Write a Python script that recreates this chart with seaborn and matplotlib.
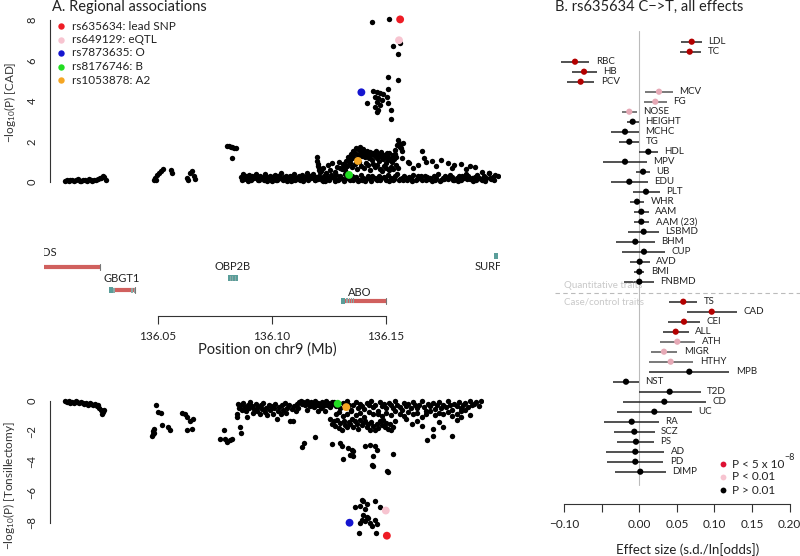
import numpy as np
import pandas as pd
import matplotlib
matplotlib.use("Agg")
import matplotlib.pyplot as plt
from matplotlib.patches import Rectangle
import seaborn as sns

# ---------------- data ----------------
# Panel A top: CAD association, (position Mb, -log10 P)
cad_snps = [
    (136.0092,0.05),(136.0100,0.10),(136.0108,0.03),(136.0116,0.08),(136.0124,0.12),(136.0132,0.06),(136.0140,0.10),(136.0148,0.14),
    (136.0156,0.07),(136.0164,0.04),(136.0172,0.11),(136.0180,0.09),(136.0188,0.05),(136.0196,0.13),(136.0204,0.08),(136.0212,0.06),
    (136.0220,0.12),(136.0228,0.10),(136.0236,0.15),(136.0244,0.20),(136.0252,0.18),(136.0258,0.30),(136.0264,0.25),(136.0270,0.12),
    (136.0483,0.12),(136.0487,0.20),(136.0492,0.10),(136.0496,0.35),(136.0505,0.45),(136.0514,0.55),(136.0522,0.65),(136.0558,0.60),
    (136.0563,0.45),(136.0628,0.20),(136.0632,0.12),(136.0640,0.45),(136.0650,0.55),(136.0658,0.30),(136.0664,0.15),
    (136.0803,1.80),(136.0810,1.76),(136.0818,1.74),(136.0825,1.72),(136.0832,1.70),(136.0840,1.70),(136.0823,1.17),
    (136.0865,0.25),(136.0872,0.40),(136.0879,0.15),(136.0886,0.30),(136.0893,0.20),(136.0900,0.35),(136.0907,0.10),(136.0914,0.28),
    (136.0921,0.18),(136.0928,0.40),(136.0935,0.22),(136.0942,0.12),(136.0949,0.32),(136.0956,0.20),(136.0963,0.08),(136.0970,0.38),
    (136.0977,0.25),(136.0984,0.15),(136.0991,0.30),(136.0998,0.05),(136.1005,0.22),(136.1012,0.35),(136.1019,0.12),(136.1026,0.28),
    (136.1033,0.18),(136.1040,0.42),(136.1047,0.10),(136.1054,0.25),(136.1061,0.32),(136.1068,0.15),(136.1075,0.20),(136.1082,0.05),
    (136.1089,0.30),(136.1096,0.38),(136.1103,0.12),(136.1110,0.22),(136.1117,0.28),(136.1124,0.08),(136.1131,0.35),(136.1138,0.18),
    (136.1145,0.25),(136.1152,0.45),(136.1159,0.12),(136.1166,0.30),(136.1173,0.20),(136.1180,0.38),(136.1187,0.10),(136.1194,0.25),
    (136.1201,0.15),(136.1208,0.32),(136.1215,0.22),(136.1222,0.05),(136.1229,0.28),(136.1236,0.40),(136.1243,0.18),(136.1250,0.12),
    (136.1257,0.35),(136.1264,0.25),
    (136.0868,0.10),(136.0882,0.20),(136.0896,0.05),(136.0910,0.15),(136.0924,0.30),(136.0938,0.08),(136.0952,0.18),(136.0966,0.25),
    (136.0980,0.05),(136.0994,0.12),(136.1008,0.32),(136.1022,0.08),(136.1036,0.20),(136.1050,0.15),(136.1064,0.05),(136.1078,0.28),
    (136.1092,0.10),(136.1106,0.22),(136.1120,0.15),(136.1134,0.05),(136.1148,0.18),(136.1162,0.30),(136.1176,0.25),(136.1190,0.08),
    (136.1204,0.20),(136.1218,0.12),(136.1232,0.05),(136.1246,0.22),(136.1260,0.30),
    (136.1196,1.22),(136.1198,1.05),(136.1201,0.90),(136.1203,0.80),(136.1205,0.70),(136.1208,0.60),(136.1210,0.50),
    (136.1215,0.55),(136.1225,0.70),(136.1235,0.45),(136.1245,0.85),(136.1255,0.60),(136.1265,0.95),(136.1275,0.50),(136.1285,0.75),
    (136.1295,1.00),(136.1305,0.65),(136.1315,0.85),(136.1325,1.05),
    (136.1335,1.25),(136.1340,1.10),(136.1345,1.40),(136.1350,1.30),(136.1355,1.55),(136.1360,1.20),(136.1365,1.45),(136.1370,1.70),
    (136.1375,1.35),(136.1380,1.60),(136.1385,1.75),(136.1390,1.50),(136.1395,1.30),(136.1400,1.65),(136.1405,1.45),(136.1410,1.25),
    (136.1415,1.55),(136.1420,1.40),(136.1425,1.20),(136.1430,1.50),(136.1435,1.35),(136.1440,1.10),(136.1445,1.45),(136.1450,1.30),
    (136.1455,1.55),(136.1460,1.20),(136.1465,1.40),(136.1470,1.05),(136.1475,1.30),(136.1480,1.50),(136.1485,1.15),(136.1490,1.35),
    (136.1495,1.25),(136.1500,0.95),(136.1505,1.30),(136.1510,1.10),(136.1515,1.45),(136.1520,1.20),(136.1525,1.00),(136.1530,1.35),
    (136.1535,1.15),(136.1540,1.40),(136.1545,1.25),(136.1550,1.85),(136.1555,1.95),(136.1560,1.80),(136.1565,1.70),(136.1570,1.55),
    (136.1300,0.70),(136.1310,0.90),(136.1320,0.60),(136.1330,0.80),(136.1342,0.95),(136.1352,0.75),(136.1362,0.90),(136.1372,0.65),
    (136.1382,1.00),(136.1392,0.80),(136.1402,0.70),(136.1412,0.95),(136.1422,0.85),(136.1432,0.60),(136.1442,0.90),(136.1452,0.75),
    (136.1462,0.85),(136.1472,0.65),(136.1482,0.55),(136.1492,0.80),(136.1502,0.70),(136.1512,0.60),(136.1522,0.75),(136.1532,0.65),
    (136.1542,0.85),(136.1552,0.70),
    (136.1270,0.20),(136.1280,0.35),(136.1290,0.10),(136.1300,0.28),(136.1310,0.15),(136.1320,0.40),(136.1330,0.22),(136.1340,0.08),
    (136.1350,0.30),(136.1360,0.18),(136.1370,0.25),(136.1380,0.12),(136.1390,0.35),(136.1400,0.20),(136.1410,0.05),(136.1420,0.28),
    (136.1430,0.15),(136.1440,0.32),(136.1450,0.22),(136.1460,0.10),(136.1470,0.30),(136.1480,0.18),(136.1490,0.25),(136.1500,0.08),
    (136.1510,0.35),(136.1520,0.20),(136.1530,0.12),(136.1540,0.28),(136.1550,0.40),(136.1560,0.15),(136.1570,0.22),(136.1580,0.30),
    (136.1590,0.10),(136.1600,0.25),(136.1610,0.18),(136.1620,0.35),(136.1630,0.08),(136.1640,0.28),(136.1650,0.20),(136.1660,0.12),
    (136.1670,0.32),(136.1680,0.25),(136.1690,0.15),(136.1700,0.05),(136.1710,0.30),(136.1720,0.22),(136.1730,0.38),(136.1740,0.10),
    (136.1750,0.20),(136.1760,0.28),(136.1770,0.15),(136.1780,0.35),(136.1790,0.25),(136.1800,0.08),(136.1810,0.18),(136.1820,0.30),
    (136.1830,0.12),(136.1840,0.22),(136.1850,0.40),(136.1860,0.28),(136.1870,0.15),(136.1880,0.05),(136.1890,0.25),(136.1900,0.35),
    (136.1910,0.18),(136.1920,0.10),(136.1930,0.30),(136.1940,0.20),(136.1950,0.45),(136.1960,0.15),(136.1970,0.25),(136.1980,0.35),
    (136.1990,0.30),
    (136.1275,0.05),(136.1295,0.15),(136.1315,0.05),(136.1335,0.18),(136.1355,0.10),(136.1375,0.05),(136.1395,0.12),(136.1415,0.22),
    (136.1435,0.05),(136.1455,0.15),(136.1475,0.08),(136.1495,0.20),(136.1515,0.05),(136.1535,0.15),(136.1555,0.08),(136.1575,0.12),
    (136.1595,0.20),(136.1615,0.05),(136.1635,0.15),(136.1655,0.30),(136.1675,0.08),(136.1695,0.20),(136.1715,0.12),(136.1735,0.05),
    (136.1755,0.15),(136.1775,0.25),(136.1795,0.10),(136.1815,0.05),(136.1835,0.30),(136.1855,0.15),(136.1875,0.22),(136.1895,0.08),
    (136.1915,0.15),(136.1935,0.05),(136.1955,0.22),(136.1975,0.10),
    (136.1657,1.55),(136.1665,1.20),(136.1675,1.00),(136.1700,1.05),(136.1720,0.80),(136.1740,1.10),(136.1770,0.95),(136.1790,0.70),
    (136.1800,0.85),(136.1830,0.90),(136.1850,0.65),(136.1870,0.80),(136.1890,0.75),(136.1920,0.50),(136.1950,0.45),(136.1600,0.95),
    (136.1620,0.70),(136.1640,0.85),
    (136.1554,2.07),(136.1575,1.91),(136.1561,1.74),(136.1539,1.58),(136.1503,1.42),(136.1488,1.25),(136.1532,1.33),(136.1569,1.17),
    (136.1598,1.00),
    (136.1437,7.91),(136.1512,8.03),(136.1561,6.85),(136.1532,6.72),(136.1553,6.30),(136.1507,5.17),(136.1554,5.03),(136.1442,4.51),
    (136.1459,4.46),(136.1474,4.38),(136.1488,4.33),(136.1452,4.21),(136.1466,4.13),(136.1481,4.05),(136.1459,3.97),(136.1474,3.80),
    (136.1452,3.72),(136.1466,3.56),(136.1459,3.47),(136.1510,4.58),(136.1503,4.21),(136.1510,3.89),(136.1521,3.56),(136.1415,3.92),
    (136.1521,3.09),
]

# Panel A bottom: tonsillectomy association, (position Mb, log10 P)
tons_snps = [
    (136.0096,-0.05),(136.0104,-0.10),(136.0112,-0.03),(136.0120,-0.12),(136.0128,-0.08),(136.0136,-0.15),(136.0144,-0.05),(136.0152,-0.10),
    (136.0160,-0.18),(136.0168,-0.08),(136.0176,-0.12),(136.0184,-0.20),(136.0192,-0.15),(136.0200,-0.25),(136.0208,-0.18),(136.0216,-0.22),
    (136.0224,-0.30),(136.0232,-0.20),(136.0240,-0.35),(136.0246,-0.28),(136.0252,-0.45),(136.0258,-0.62),(136.0262,-0.85),(136.0268,-0.72),
    (136.0272,-0.60),
    (136.0510,-0.28),(136.0521,-0.72),(136.0533,-0.83),(136.0498,-2.00),(136.0496,-2.20),(136.0494,-2.32),(136.0500,-2.10),(136.0502,-1.85),
    (136.0536,-1.60),(136.0566,-1.70),(136.0574,-1.90),
    (136.0627,-0.80),(136.0642,-0.85),(136.0650,-1.09),(136.0665,-1.31),(136.0680,-1.20),(136.0650,-1.90),(136.0673,-1.85),
    (136.0820,-1.90),(136.0802,-2.50),(136.0825,-2.50),(136.0847,-2.60),(136.0832,-2.72),(136.0855,-2.50),(136.0893,-1.70),(136.0896,-2.10),
    (136.0878,-0.85),(136.0880,-1.10),(136.0884,-0.20),(136.0890,-0.45),(136.0896,-0.30),(136.0902,-0.60),(136.0908,-0.15),(136.0914,-0.40),
    (136.0920,-0.70),(136.0923,-1.04),(136.0928,-0.25),(136.0934,-0.50),(136.0940,-0.10),(136.0946,-0.35),(136.0952,-0.80),(136.0958,-0.55),
    (136.0964,-0.20),(136.0970,-0.65),(136.0976,-0.40),(136.0982,-0.90),(136.0988,-0.30),(136.0994,-0.55),(136.1000,-0.15),(136.1006,-0.75),
    (136.1012,-0.45),(136.1018,-0.95),(136.1024,-0.25),(136.1030,-0.60),(136.1036,-0.35),(136.1042,-0.85),(136.1048,-0.50),(136.1054,-0.20),
    (136.1060,-1.20),(136.1066,-0.70),(136.1072,-0.40),(136.1078,-0.90),(136.1084,-0.30),(136.1090,-0.60),(136.1096,-0.15),(136.1102,-0.80),
    (136.1108,-0.45),(136.1114,-0.25),(136.1121,-1.31),(136.1128,-0.55),(136.1136,-1.31),(136.1140,-0.35),(136.1146,-0.70),(136.1152,-0.20),
    (136.1158,-0.50),(136.1164,-0.10),
    (136.1170,-0.05),(136.1176,-0.20),(136.1182,-0.10),(136.1188,-0.30),(136.1194,-0.15),(136.1200,-0.05),(136.1206,-0.25),(136.1212,-0.35),
    (136.1218,-0.10),(136.1224,-0.20),(136.1230,-0.40),(136.1236,-0.05),(136.1242,-0.30),(136.1248,-0.15),(136.1254,-0.25),(136.1260,-0.45),
    (136.1266,-0.10),(136.1272,-0.35),(136.1278,-0.20),(136.1284,-0.05),(136.1290,-0.30),(136.1296,-0.15),(136.1302,-0.40),(136.1308,-0.25),
    (136.1314,-0.10),(136.1174,-3.05),(136.1185,-2.80),(136.1235,-2.40),(136.1200,-0.60),(136.1250,-0.70),(136.1280,-0.65),
    (136.1320,-0.10),(136.1330,-0.35),(136.1340,-0.20),(136.1350,-0.50),(136.1360,-0.15),(136.1370,-0.40),(136.1380,-0.05),(136.1390,-0.30),
    (136.1400,-0.60),(136.1410,-0.25),(136.1420,-0.10),(136.1430,-0.45),(136.1440,-0.20),(136.1450,-0.35),(136.1460,-0.55),(136.1470,-0.15),
    (136.1480,-0.30),(136.1490,-0.05),(136.1500,-0.40),(136.1510,-0.25),(136.1520,-0.65),(136.1530,-0.10),(136.1540,-0.35),(136.1550,-0.20),
    (136.1560,-0.50),(136.1570,-0.15),(136.1580,-0.30),(136.1590,-0.45),(136.1600,-0.05),(136.1610,-0.25),(136.1620,-0.40),(136.1630,-0.60),
    (136.1640,-0.15),(136.1650,-0.35),(136.1660,-0.20),(136.1670,-0.50),(136.1680,-0.10),(136.1690,-0.30),(136.1700,-0.45),(136.1710,-0.25),
    (136.1720,-0.05),(136.1730,-0.40),(136.1740,-0.70),(136.1750,-0.20),(136.1760,-0.35),(136.1770,-0.15),(136.1780,-0.55),(136.1790,-0.30),
    (136.1800,-0.10),(136.1810,-0.45),(136.1820,-0.25),(136.1830,-0.40),(136.1840,-0.05),(136.1850,-0.30),(136.1860,-0.60),(136.1870,-0.20),
    (136.1880,-0.35),(136.1890,-0.10),(136.1900,-0.50),(136.1910,-0.25),(136.1920,-0.15),(136.1930,-0.40),(136.1940,-0.05),(136.1950,-0.30),
    (136.1960,-0.20),(136.1970,-0.10),(136.1980,-0.35),(136.1990,-0.05),
    (136.1330,-0.90),(136.1345,-0.75),(136.1360,-1.00),(136.1380,-0.85),(136.1400,-0.70),(136.1420,-0.95),(136.1440,-0.80),(136.1460,-1.05),
    (136.1480,-0.75),(136.1500,-0.90),(136.1520,-0.85),(136.1540,-1.00),(136.1560,-0.80),(136.1580,-0.95),(136.1600,-0.70),(136.1620,-0.85),
    (136.1640,-1.00),(136.1660,-0.75),(136.1680,-0.90),(136.1700,-0.80),(136.1720,-1.05),(136.1740,-0.85),(136.1760,-0.70),(136.1780,-0.95),
    (136.1800,-0.80),(136.1820,-0.90),(136.1840,-0.75),(136.1860,-1.00),(136.1880,-0.85),(136.1900,-0.70),(136.1920,-0.60),(136.1941,-0.96),
    (136.1305,-1.20),(136.1312,-1.50),(136.1320,-1.35),(136.1328,-1.65),(136.1335,-1.25),(136.1342,-1.80),(136.1350,-1.45),(136.1358,-1.90),
    (136.1365,-1.30),(136.1372,-1.60),(136.1380,-1.75),(136.1388,-1.40),(136.1395,-1.55),(136.1402,-1.20),(136.1410,-1.70),(136.1418,-1.35),
    (136.1425,-1.50),(136.1432,-1.85),(136.1440,-1.25),(136.1448,-1.60),(136.1455,-1.45),(136.1462,-1.30),(136.1470,-1.75),(136.1478,-1.55),
    (136.1485,-1.90),(136.1492,-1.40),(136.1500,-1.65),(136.1508,-1.95),(136.1515,-1.50),(136.1522,-1.80),(136.1530,-1.35),(136.1538,-1.60),
    (136.1545,-1.25),(136.1552,-1.70),(136.1560,-1.45),(136.1568,-1.85),(136.1575,-1.55),(136.1582,-1.95),(136.1590,-1.75),(136.1598,-1.30),
    (136.1650,-1.20),(136.1675,-1.50),(136.1700,-1.30),(136.1720,-1.65),(136.1743,-2.60),(136.1771,-2.30),(136.1774,-1.85),(136.1800,-1.40),
    (136.1819,-1.70),(136.1857,-2.30),(136.1880,-1.25),(136.1900,-1.10),
    (136.1311,-2.85),(136.1349,-2.74),(136.1356,-3.00),(136.1386,-3.10),(136.1402,-3.20),(136.1409,-3.30),(136.1364,-3.80),(136.1394,-3.55),
    (136.1409,-3.60),(136.1462,-3.00),(136.1485,-2.90),(136.1508,-3.00),(136.1518,-3.20),(136.1497,-3.60),(136.1493,-4.20),(136.1500,-4.30),
    (136.1561,-4.60),(136.1569,-4.70),(136.1589,-3.50),
    (136.1447,-6.50),(136.1455,-6.60),(136.1470,-6.80),(136.1417,-7.00),(136.1440,-6.90),(136.1462,-7.10),(136.1508,-6.60),(136.1531,-7.00),
    (136.1455,-7.50),(136.1470,-7.60),(136.1477,-7.70),(136.1447,-7.80),(136.1440,-8.00),(136.1462,-7.90),(136.1485,-8.00),(136.1508,-7.80),
    (136.1493,-8.20),(136.1516,-8.10),(136.1436,-8.70),(136.1513,-8.70),
]

# Highlighted SNPs
hl_labels = ["rs635634: lead SNP", "rs649129: eQTL", "rs7873635: O", "rs8176746: B", "rs1053878: A2"]
hl_colors = ["#ee1c25", "#f7c4d0", "#1515d0", "#22dd22", "#f5a623"]
hl_pos = [136.1562, 136.1557, 136.1392, 136.1338, 136.1377]
hl_cad = [8.03, 7.00, 4.43, 0.35, 1.04]
hl_tons = [-8.85, -7.20, -8.00, -0.20, -0.42]

# Genes (hg19 Mb)
gene_names = ["RALGDS", "GBGT1", "OBP2B", "ABO", "SURF6"]
gene_start = [135.9750, 136.0285, 136.0807, 136.1303, 136.1974]
gene_end = [136.0246, 136.0399, 136.0851, 136.1500, 136.1991]
gene_teal = [[], [(136.0285, 136.0302)], [(136.0807, 136.0851)], [(136.1303, 136.1320)], [(136.1974, 136.1991)]]
gene_marks = [[], [136.0306, 136.0311, 136.0383, 136.0390, 136.0396], [136.0817, 136.0828, 136.0840],
              [136.1326, 136.1333, 136.1340, 136.1348, 136.1356], []]
gene_has_line = [True, True, False, True, False]

# Panel B: effects of rs635634
quant_traits = ["LDL","TC","RBC","HB","PCV","MCV","FG","NOSE","HEIGHT","MCHC","TG","HDL","MPV","UB","EDU","PLT",
                "WHR","AAM","AAM (23)","LSBMD","BHM","CUP","AVD","BMI","FNBMD"]
quant_eff = [0.0697,0.067,-0.0855,-0.0735,-0.078,0.0262,0.0213,-0.0133,-0.0088,-0.019,-0.0133,0.012,-0.019,0.005,-0.0133,0.0089,
             -0.003,0.0027,0.0027,0.0058,-0.0053,0.0062,0.0005,0.0,0.0]
quant_lo = [0.056,0.054,-0.104,-0.0895,-0.0966,0.008,0.0062,-0.0234,-0.0168,-0.0376,-0.0266,0.0,-0.0487,-0.004,-0.0376,-0.0088,
            -0.0128,-0.0066,-0.0075,-0.0146,-0.0314,-0.023,-0.0124,-0.007,-0.020]
quant_hi = [0.083,0.082,-0.0665,-0.0567,-0.0598,0.0444,0.0364,-0.003,-0.0008,-0.0004,0.0,0.0249,0.0098,0.0142,0.0111,0.0271,
            0.0067,0.0125,0.0130,0.0258,0.0204,0.0346,0.0138,0.0067,0.0195]
quant_sig = ["gw","gw","gw","gw","gw","nom","nom","nom","ns","ns","ns","ns","ns","ns","ns","ns",
             "ns","ns","ns","ns","ns","ns","ns","ns","ns"]

cc_traits = ["TS","CAD","CEI","ALL","ATH","MIGR","HTHY","MPB","NST","T2D","CD","UC","RA","SCZ","PS","AD","PD","DIMP"]
cc_eff = [0.0585,0.0963,0.0594,0.0484,0.0505,0.0328,0.0417,0.0665,-0.0177,0.0404,0.0333,0.020,-0.0101,-0.0066,-0.0044,-0.0053,-0.0053,0.0013]
cc_lo = [0.039,0.063,0.0386,0.031,0.0275,0.0151,0.0125,0.0129,-0.0346,0.0,-0.0217,-0.030,-0.0465,-0.0336,-0.029,-0.0443,-0.043,-0.0328]
cc_hi = [0.0771,0.1295,0.0807,0.0657,0.074,0.0505,0.0718,0.1197,-0.0008,0.0816,0.0883,0.070,0.0262,0.0204,0.0195,0.0333,0.032,0.0351]
cc_sig = ["gw","gw","gw","gw","nom","nom","nom","ns","ns","ns","ns","ns","ns","ns","ns","ns","ns","ns"]

forest_ticks = [-0.10, -0.05, 0.00, 0.05, 0.10, 0.15, 0.20]
forest_ticklabels = ["\u22120.10", "", "0.00", "0.05", "0.10", "0.15", "0.20"]

# ---------------- style ----------------
sns.set_style("white")
plt.rcParams['font.family'] = ['Lato', 'DejaVu Sans']
plt.rcParams['mathtext.fontset'] = 'custom'
plt.rcParams['mathtext.rm'] = 'Lato'
plt.rcParams['mathtext.it'] = 'Lato'
plt.rcParams['mathtext.default'] = 'regular'

W, H = 800, 556
fig = plt.figure(figsize=(8, 5.56), dpi=100)
fig.patch.set_facecolor("white")

def rect(x0, y0, x1, y1):
    return [x0 / W, 1 - y1 / H, (x1 - x0) / W, (y1 - y0) / H]

def fx(x):
    return x / W

def fy(y):
    return 1 - y / H

AX = "#333333"

def r_axis(ax):
    for s in ["top", "right", "bottom", "left"]:
        ax.spines[s].set_visible(False)
    ax.tick_params(colors=AX, width=0.8, labelcolor="#222222")
    ax.set_xlabel("")
    ax.set_ylabel("")
    ax.grid(False)
    ax.set_facecolor("none")

# ---------------- Panel A top ----------------
ax1 = fig.add_axes(rect(44, 15, 500, 195))
df_cad = pd.DataFrame(cad_snps, columns=["pos", "logp"])
sns.scatterplot(data=df_cad, x="pos", y="logp", color="black", s=15, linewidth=0, ax=ax1, zorder=2)
df_hl = pd.DataFrame({"pos": hl_pos, "cad": hl_cad, "tons": hl_tons, "label": hl_labels})
pal = dict(zip(hl_labels, hl_colors))
sns.scatterplot(data=df_hl, x="pos", y="cad", hue="label", palette=pal, s=32, linewidth=0, ax=ax1,
                legend=False, zorder=3)
ax1.set_xlim(136.0, 136.2)
ax1.set_ylim(-0.642, 8.247)
r_axis(ax1)
ax1.spines["left"].set_visible(True)
ax1.spines["left"].set_color(AX)
ax1.spines["left"].set_linewidth(0.8)
ax1.spines["left"].set_bounds(0, 8)
ax1.spines["left"].set_position(("axes", 6 / 456))
ax1.set_xticks([])
ax1.set_yticks([0, 2, 4, 6, 8])
ax1.tick_params(axis="y", length=6, labelsize=8, labelrotation=90, pad=3)
for lab in ax1.get_yticklabels():
    lab.set_va("center")

# legend
for i, (lab, col) in enumerate(zip(hl_labels, hl_colors)):
    yy = 26 + i * 13.5
    fig.add_artist(plt.Line2D([fx(61)], [fy(yy)], marker="o", markersize=4.6, color=col,
                              markeredgewidth=0, linestyle="none", transform=fig.transFigure))
    fig.text(fx(71.5), fy(yy), lab, fontsize=8.5, va="center", ha="left", color="#222222")

fig.text(fx(52), fy(7), "A. Regional associations", fontsize=10.5, va="center", ha="left", color="#222222")
fig.text(fx(10), fy(102), "\u2212log$_{10}$(P) [CAD]", fontsize=8.5, rotation=90, ha="center", va="center",
         color="#333333")

# ---------------- gene track ----------------
ax2 = fig.add_axes(rect(44, 240, 500, 316))
ax2.set_xlim(136.0, 136.2)
ax2.set_ylim(0, 76)
r_axis(ax2)
RED = "#d0605e"
TEAL = "#5a9e9a"
GREY = "#8aa9a6"
gene_lvl = [49, 26, 38, 15.3, 60.3]
label_lvl = [63, 37, 50, 24, 50]
label_x = [135.9960, 136.0341, 136.0829, 136.1386, 136.1962]
for k, name in enumerate(gene_names):
    lv = gene_lvl[k]
    if gene_has_line[k]:
        ax2.plot([gene_start[k], gene_end[k]], [lv, lv], color=RED, lw=3.0, solid_capstyle="butt", zorder=2)
        ax2.plot([gene_end[k], gene_end[k]], [lv - 3, lv + 3], color="#777777", lw=0.8, zorder=3)
    for (a, b) in gene_teal[k]:
        ax2.add_patch(Rectangle((a, lv - 3), b - a, 6, facecolor=TEAL, edgecolor="none", zorder=3))
    for m in gene_marks[k]:
        ax2.add_patch(Rectangle((m - 0.0002, lv - 2.5), 0.0004, 5, facecolor=GREY, edgecolor="none", zorder=4))
    ax2.text(label_x[k], label_lvl[k], name, fontsize=8, ha="center", va="center", color="#222222", clip_on=True)

ax2.spines["bottom"].set_visible(True)
ax2.spines["bottom"].set_color(AX)
ax2.spines["bottom"].set_linewidth(0.8)
ax2.spines["bottom"].set_bounds(136.05, 136.15)
ax2.set_xticks([136.05, 136.10, 136.15])
ax2.set_xticklabels(["136.05", "136.10", "136.15"])
ax2.set_yticks([])
ax2.tick_params(axis="x", length=6, labelsize=8.5, pad=5, bottom=True)
fig.text(fx(267.5), fy(350), "Position on chr9 (Mb)", fontsize=10.5, ha="center", va="center", color="#222222")

# ---------------- Panel A bottom ----------------
ax3 = fig.add_axes(rect(44, 385, 483, 545))
df_t = pd.DataFrame(tons_snps, columns=["pos", "logp"])
sns.scatterplot(data=df_t, x="pos", y="logp", color="black", s=15, linewidth=0, ax=ax3, zorder=2)
sns.scatterplot(data=df_hl, x="pos", y="tons", hue="label", palette=pal, s=32, linewidth=0, ax=ax3,
                legend=False, zorder=3)
ax3.set_xlim(136.0, 136.2)
ax3.set_ylim(-9.46, 1.03)
r_axis(ax3)
ax3.spines["left"].set_visible(True)
ax3.spines["left"].set_color(AX)
ax3.spines["left"].set_linewidth(0.8)
ax3.spines["left"].set_bounds(-8, 0)
ax3.spines["left"].set_position(("axes", 6 / 439))
ax3.set_xticks([])
ax3.set_yticks([0, -2, -4, -6, -8])
ax3.set_yticklabels(["0", "\u22122", "\u22124", "\u22126", "\u22128"])
ax3.tick_params(axis="y", length=6, labelsize=8, labelrotation=90, pad=3)
for lab in ax3.get_yticklabels():
    lab.set_va("center")
fig.text(fx(9), fy(486), "\u2212log$_{10}$(P) [Tonsillectomy]", fontsize=8.5, rotation=90, ha="center",
         va="center", color="#333333")

# ---------------- Panel B ----------------
ax4 = fig.add_axes(rect(548, 30, 800, 504))
df_q = pd.DataFrame({"trait": quant_traits, "eff": quant_eff, "lo": quant_lo, "hi": quant_hi, "sig": quant_sig})
df_q["row"] = np.arange(len(df_q))
df_c = pd.DataFrame({"trait": cc_traits, "eff": cc_eff, "lo": cc_lo, "hi": cc_hi, "sig": cc_sig})
df_c["row"] = np.arange(len(df_c)) + len(df_q) + 1
df_f = pd.concat([df_q, df_c], ignore_index=True)

ax4.set_xlim(-0.1214, 0.2137)
ax4.set_ylim(46.23, -1.17)
r_axis(ax4)
ax4.plot([0, 0], [-1.1, 44.3], color="#bbbbbb", lw=0.8, zorder=1)
sep = len(df_q) + 0.16
ax4.plot([-0.1124, 0.2137], [sep, sep], color="#bbbbbb", lw=0.8, ls=(0, (4, 3)), zorder=1, clip_on=False)
ax4.text(-0.1000, len(df_q) - 0.6, "Quantitative traits", fontsize=7, color="#c8c8c8", va="center", ha="left")
ax4.text(-0.1000, len(df_q) + 1.0, "Case/control traits", fontsize=7, color="#c8c8c8", va="center", ha="left")

line_col = {"gw": "#222222", "nom": "#555555", "ns": "#222222"}
for _, r in df_f.iterrows():
    ax4.plot([r.lo, r.hi], [r.row, r.row], color=line_col[r.sig], lw=1.1, zorder=2, solid_capstyle="butt")
    ax4.text(r.hi + 0.0087, r.row, r.trait, fontsize=7, va="center", ha="left", color="#222222")

fpal = {"gw": "#b30000", "nom": "#e6a9b6", "ns": "#000000"}
sns.scatterplot(data=df_f, x="eff", y="row", hue="sig", palette=fpal, s=20, linewidth=0, ax=ax4,
                legend=False, zorder=3)
ax4.set_xlim(-0.1214, 0.2137)
ax4.set_ylim(46.23, -1.17)
ax4.set_xlabel("")
ax4.set_ylabel("")

ax4.spines["bottom"].set_visible(True)
ax4.spines["bottom"].set_color(AX)
ax4.spines["bottom"].set_linewidth(0.8)
ax4.spines["bottom"].set_bounds(-0.10, 0.20)
ax4.set_xticks(forest_ticks)
ax4.set_xticklabels(forest_ticklabels)
ax4.set_yticks([])
ax4.tick_params(axis="x", length=6, labelsize=8.5, pad=5, bottom=True)

# legend for panel B
leg_labels = ["P < 5 x 10", "P < 0.01", "P > 0.01"]
leg_cols = ["#dd1133", "#f7c4d0", "#000000"]
for i, (lab, col) in enumerate(zip(leg_labels, leg_cols)):
    yy = 464 + i * 13
    fig.add_artist(plt.Line2D([fx(722.7)], [fy(yy)], marker="o", markersize=4.2, color=col,
                              markeredgewidth=0, linestyle="none", transform=fig.transFigure))
    fig.text(fx(732), fy(yy), lab, fontsize=8.5, va="center", ha="left", color="#222222")
fig.text(fx(784), fy(457), "\u22128", fontsize=6.5, va="center", ha="left", color="#222222")

fig.text(fx(555), fy(7), "B. rs635634 C\u2212>T, all effects", fontsize=10.5, va="center", ha="left", color="#222222")
fig.text(fx(687.5), fy(550), "Effect size (s.d./ln[odds])", fontsize=9.5, ha="center", va="center", color="#222222")

fig.savefig("out.png", dpi=100, facecolor="white")
